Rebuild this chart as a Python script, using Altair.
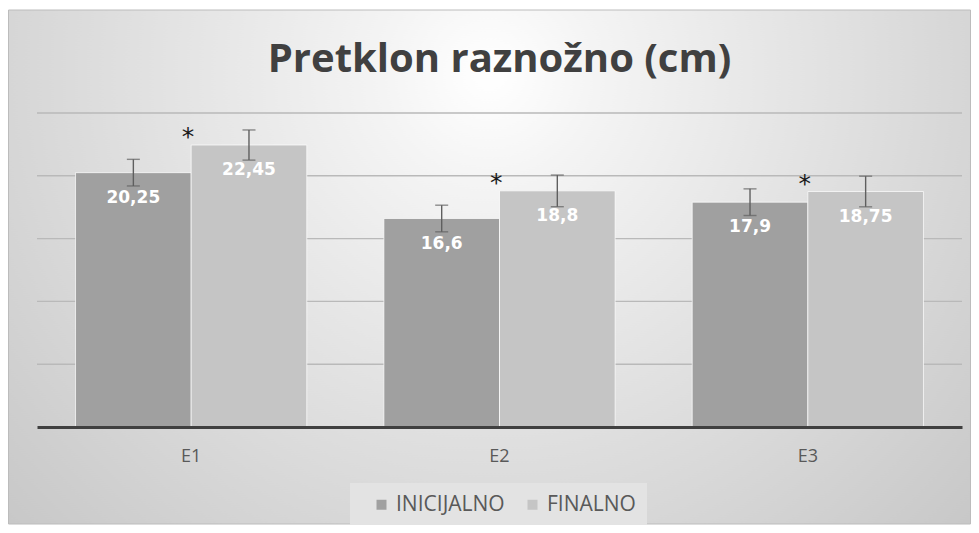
import altair as alt
import pandas as pd

title_text = "Pretklon raznožno (cm)"
groups = ["E1", "E2", "E3"]
series = ["INICIJALNO", "FINALNO"]
inicijalno = [20.25, 16.6, 17.9]
finalno = [22.45, 18.8, 18.75]
err_inicijalno = [1.06, 1.06, 1.06]
err_finalno = [1.2, 1.26, 1.22]
labels_inicijalno = ["20,25", "16,6", "17,9"]
labels_finalno = ["22,45", "18,8", "18,75"]
stars = ["*", "*", "*"]
grid_values = [5, 10, 15, 20, 25]
colors = ["#a0a0a0", "#c5c5c5"]

rows = []
for i, g in enumerate(groups):
    rows.append({"group": g, "series": series[0], "value": inicijalno[i],
                 "lo": inicijalno[i] - err_inicijalno[i], "hi": inicijalno[i] + err_inicijalno[i],
                 "label": labels_inicijalno[i], "star": ""})
    rows.append({"group": g, "series": series[1], "value": finalno[i],
                 "lo": finalno[i] - err_finalno[i], "hi": finalno[i] + err_finalno[i],
                 "label": labels_finalno[i], "star": stars[i]})
df = pd.DataFrame(rows)
grid_df = pd.DataFrame({"v": grid_values})
title_df = pd.DataFrame({"t": [title_text]})

W, H = 925, 314
PAD = {"left": 29, "top": 105, "right": 9, "bottom": 98}

yscale = alt.Scale(domain=[0, 25], nice=False, zero=True)

bg = alt.Chart(title_df).mark_rect(
    fill=alt.RadialGradient(
        gradient="radial",
        stops=[alt.GradientStop(color="#ffffff", offset=0),
               alt.GradientStop(color="#f4f4f4", offset=0.15),
               alt.GradientStop(color="#c4c4c4", offset=1)],
        x1=0.5, y1=0.30, r1=0, x2=0.5, y2=0.30, r2=0.73),
    stroke="#bcbcbc", strokeWidth=1, clip=False,
).encode(
    x=alt.value(-PAD["left"] + 0.5), x2=alt.value(W + PAD["right"] - 0.5),
    y=alt.value(-PAD["top"] + 2), y2=alt.value(H + PAD["bottom"] - 1),
)

title = alt.Chart(title_df).mark_text(
    font="Open Sans", fontSize=40, fontWeight="bold", color="#404040",
    baseline="alphabetic", align="center", clip=False,
).encode(x=alt.value(W / 2), y=alt.value(-41), text="t:N")

grid = alt.Chart(grid_df).mark_rule(color="#b9b9b9", strokeWidth=1.4).encode(
    y=alt.Y("v:Q", scale=yscale, axis=None),
    x=alt.value(0), x2=alt.value(W),
)

xenc = alt.X("group:N", sort=groups,
             scale=alt.Scale(paddingInner=0.25, paddingOuter=0.125),
             axis=alt.Axis(title=None, labelAngle=0, labelFont="Open Sans", labelFontSize=18,
                           labelColor="#595959", ticks=False, tickSize=0, labelPadding=20,
                           domainColor="#404040", domainWidth=3, grid=False, zindex=1))
xoff = alt.XOffset("series:N", sort=series, scale=alt.Scale(paddingInner=0, paddingOuter=0))

base = alt.Chart(df).encode(x=xenc, xOffset=xoff)

bars = base.mark_bar(stroke="white", strokeWidth=1, strokeOpacity=0.7).encode(
    y=alt.Y("value:Q", scale=yscale, axis=None),
    color=alt.Color("series:N", sort=series,
                    scale=alt.Scale(domain=series, range=colors),
                    legend=alt.Legend(title=None, orient="none", direction="horizontal",
                                      legendX=313, legendY=370,
                                      labelFont="Open Sans", labelFontSize=21, labelColor="#595959",
                                      symbolType="square", symbolSize=100, symbolStrokeWidth=0,
                                      labelOffset=4, columnPadding=7,
                                      fillColor="#e3e3e3", padding=11, symbolOffset=10)),
)

err = base.mark_rule(color="#5f5f5f", strokeWidth=1.4).encode(
    y=alt.Y("lo:Q", scale=yscale), y2="hi:Q")
cap_lo = base.mark_tick(color="#5f5f5f", thickness=1.4, size=13, orient="horizontal").encode(
    y=alt.Y("lo:Q", scale=yscale))
cap_hi = base.mark_tick(color="#5f5f5f", thickness=1.4, size=13, orient="horizontal").encode(
    y=alt.Y("hi:Q", scale=yscale))

labels = base.mark_text(color="white", font="DejaVu Sans", fontWeight="bold", fontSize=17,
                        baseline="middle", dy=25).encode(
    y=alt.Y("value:Q", scale=yscale), text="label:N")

star = base.transform_filter(alt.datum.star != "").mark_text(
    color="#1a1a1a", font="DejaVu Sans", fontSize=25, baseline="middle", dx=-61, dy=-8).encode(
    y=alt.Y("value:Q", scale=yscale), text="star:N")

chart = alt.layer(bg, title, grid, bars, err, cap_lo, cap_hi, labels, star).properties(
    width=W, height=H,
    padding=PAD,
    autosize=alt.AutoSizeParams(type="none"),
    background="white",
).configure_view(stroke=None)

chart.save("out.html", embed_options={"renderer": "svg", "actions": False})
